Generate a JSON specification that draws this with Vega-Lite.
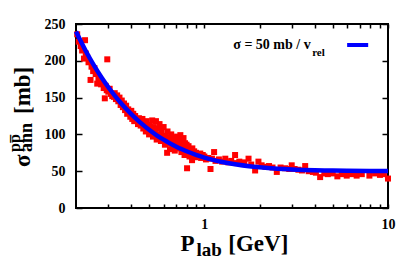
{
  "$schema": "https://vega.github.io/schema/vega-lite/v6.json",
  "autosize": "none",
  "width": 312,
  "height": 184,
  "padding": {"left": 76, "top": 24, "right": 11, "bottom": 51},
  "background": "white",
  "config": {
    "font": "Liberation Serif, Times New Roman, DejaVu Serif, serif",
    "view": {"stroke": "black", "strokeWidth": 2},
    "axis": {
      "grid": false,
      "domain": false,
      "tickColor": "black",
      "tickWidth": 1.5,
      "labelFont": "Liberation Serif, Times New Roman, DejaVu Serif, serif",
      "labelFontWeight": "bold",
      "labelFontSize": 14,
      "labelColor": "black",
      "title": null
    }
  },
  "datasets": {
    "pts": [
      {"p": 0.203, "s": 236}, {"p": 0.207, "s": 226}, {"p": 0.212, "s": 220}, {"p": 0.216, "s": 214},
      {"p": 0.221, "s": 203}, {"p": 0.224, "s": 228}, {"p": 0.226, "s": 210}, {"p": 0.23, "s": 205},
      {"p": 0.234, "s": 198}, {"p": 0.24, "s": 174}, {"p": 0.243, "s": 192}, {"p": 0.248, "s": 186},
      {"p": 0.252, "s": 190}, {"p": 0.256, "s": 182}, {"p": 0.261, "s": 169}, {"p": 0.265, "s": 176},
      {"p": 0.27, "s": 172}, {"p": 0.274, "s": 168}, {"p": 0.278, "s": 170}, {"p": 0.283, "s": 163},
      {"p": 0.287, "s": 149}, {"p": 0.29, "s": 166}, {"p": 0.294, "s": 160}, {"p": 0.296, "s": 202},
      {"p": 0.3, "s": 158},
      {"p": 0.305, "s": 162}, {"p": 0.31, "s": 155}, {"p": 0.315, "s": 152}, {"p": 0.322, "s": 151},
      {"p": 0.325, "s": 156}, {"p": 0.33, "s": 148}, {"p": 0.335, "s": 153}, {"p": 0.34, "s": 145},
      {"p": 0.345, "s": 150}, {"p": 0.35, "s": 140}, {"p": 0.355, "s": 146}, {"p": 0.36, "s": 137},
      {"p": 0.365, "s": 142}, {"p": 0.37, "s": 133}, {"p": 0.375, "s": 139}, {"p": 0.38, "s": 128},
      {"p": 0.385, "s": 134}, {"p": 0.39, "s": 131}, {"p": 0.395, "s": 124}, {"p": 0.4, "s": 132},
      {"p": 0.405, "s": 121}, {"p": 0.41, "s": 128}, {"p": 0.415, "s": 118}, {"p": 0.42, "s": 125},
      {"p": 0.43, "s": 120}, {"p": 0.435, "s": 114}, {"p": 0.44, "s": 122}, {"p": 0.45, "s": 112},
      {"p": 0.455, "s": 119},
      {"p": 0.46, "s": 121}, {"p": 0.465, "s": 108}, {"p": 0.47, "s": 115}, {"p": 0.48, "s": 104},
      {"p": 0.485, "s": 118}, {"p": 0.49, "s": 110}, {"p": 0.5, "s": 100}, {"p": 0.505, "s": 113},
      {"p": 0.51, "s": 106}, {"p": 0.52, "s": 119}, {"p": 0.525, "s": 97}, {"p": 0.53, "s": 110},
      {"p": 0.54, "s": 103}, {"p": 0.545, "s": 118}, {"p": 0.55, "s": 93}, {"p": 0.56, "s": 108},
      {"p": 0.565, "s": 100}, {"p": 0.57, "s": 114}, {"p": 0.58, "s": 91}, {"p": 0.585, "s": 104},
      {"p": 0.59, "s": 97}, {"p": 0.6, "s": 110}, {"p": 0.61, "s": 86}, {"p": 0.615, "s": 98},
      {"p": 0.62, "s": 92}, {"p": 0.627, "s": 75}, {"p": 0.63, "s": 104}, {"p": 0.64, "s": 88},
      {"p": 0.645, "s": 96}, {"p": 0.65, "s": 80}, {"p": 0.66, "s": 100}, {"p": 0.665, "s": 90},
      {"p": 0.67, "s": 84}, {"p": 0.68, "s": 95}, {"p": 0.69, "s": 78}, {"p": 0.7, "s": 92},
      {"p": 0.705, "s": 86}, {"p": 0.71, "s": 97}, {"p": 0.72, "s": 81}, {"p": 0.725, "s": 95},
      {"p": 0.73, "s": 88}, {"p": 0.74, "s": 99}, {"p": 0.75, "s": 76}, {"p": 0.755, "s": 92},
      {"p": 0.76, "s": 84}, {"p": 0.77, "s": 95}, {"p": 0.78, "s": 72}, {"p": 0.785, "s": 88},
      {"p": 0.79, "s": 80}, {"p": 0.8, "s": 86}, {"p": 0.805, "s": 54}, {"p": 0.81, "s": 76},
      {"p": 0.82, "s": 84}, {"p": 0.83, "s": 70}, {"p": 0.84, "s": 79}, {"p": 0.85, "s": 74},
      {"p": 0.857, "s": 65}, {"p": 0.86, "s": 81}, {"p": 0.87, "s": 72}, {"p": 0.88, "s": 77},
      {"p": 0.89, "s": 69}, {"p": 0.9, "s": 75}, {"p": 0.92, "s": 72}, {"p": 0.94, "s": 70},
      {"p": 0.95, "s": 74},
      {"p": 0.96, "s": 68}, {"p": 0.98, "s": 72}, {"p": 1.0, "s": 70}, {"p": 1.02, "s": 66},
      {"p": 1.05, "s": 68}, {"p": 1.08, "s": 53}, {"p": 1.1, "s": 67}, {"p": 1.13, "s": 76},
      {"p": 1.15, "s": 64}, {"p": 1.2, "s": 66}, {"p": 1.25, "s": 63}, {"p": 1.3, "s": 67},
      {"p": 1.35, "s": 62}, {"p": 1.4, "s": 64}, {"p": 1.47, "s": 72}, {"p": 1.5, "s": 61},
      {"p": 1.55, "s": 63}, {"p": 1.6, "s": 60}, {"p": 1.65, "s": 62}, {"p": 1.74, "s": 67},
      {"p": 1.8, "s": 59}, {"p": 1.89, "s": 51}, {"p": 1.97, "s": 63}, {"p": 2.05, "s": 58},
      {"p": 2.15, "s": 56}, {"p": 2.25, "s": 57}, {"p": 2.35, "s": 55}, {"p": 2.48, "s": 49},
      {"p": 2.6, "s": 55}, {"p": 2.75, "s": 54}, {"p": 2.9, "s": 53}, {"p": 2.99, "s": 58},
      {"p": 3.1, "s": 53}, {"p": 3.25, "s": 52}, {"p": 3.4, "s": 51}, {"p": 3.54, "s": 57},
      {"p": 3.7, "s": 50}, {"p": 3.9, "s": 49}, {"p": 4.05, "s": 48}, {"p": 4.27, "s": 42},
      {"p": 4.5, "s": 47}, {"p": 4.7, "s": 46}, {"p": 5.0, "s": 47}, {"p": 5.3, "s": 43},
      {"p": 5.6, "s": 46}, {"p": 5.96, "s": 44}, {"p": 6.3, "s": 46}, {"p": 6.75, "s": 44},
      {"p": 7.2, "s": 46}, {"p": 7.92, "s": 44}, {"p": 8.5, "s": 47}, {"p": 9.04, "s": 45},
      {"p": 9.5, "s": 46}, {"p": 10.0, "s": 40}
    ],
    "curve": [
      {"p": 0.2, "s": 239.8}, {"p": 0.225, "s": 214.4}, {"p": 0.25, "s": 194.1}, {"p": 0.275, "s": 177.7},
      {"p": 0.3, "s": 164.1}, {"p": 0.35, "s": 143.0}, {"p": 0.4, "s": 127.5}, {"p": 0.45, "s": 115.6},
      {"p": 0.5, "s": 106.3}, {"p": 0.55, "s": 98.8}, {"p": 0.6, "s": 92.8}, {"p": 0.65, "s": 87.8},
      {"p": 0.7, "s": 83.6}, {"p": 0.75, "s": 80.1}, {"p": 0.8, "s": 77.05}, {"p": 0.9, "s": 72.2},
      {"p": 1.0, "s": 68.55}, {"p": 1.1, "s": 65.7}, {"p": 1.25, "s": 62.51}, {"p": 1.5, "s": 58.97},
      {"p": 1.75, "s": 56.7}, {"p": 2.0, "s": 55.23}, {"p": 2.5, "s": 53.4}, {"p": 3.0, "s": 52.39},
      {"p": 4.0, "s": 51.36}, {"p": 5.0, "s": 50.87}, {"p": 6.0, "s": 50.61}, {"p": 8.0, "s": 50.34},
      {"p": 10.0, "s": 50.22}
    ]
  },
  "layer": [
    {
      "data": {"name": "pts"},
      "mark": {"type": "square", "color": "#ff0000", "size": 36, "opacity": 1},
      "encoding": {
        "x": {
          "field": "p", "type": "quantitative",
          "scale": {"type": "log", "domain": [0.2, 10], "nice": false},
          "axis": {
            "orient": "bottom",
            "values": [0.3, 0.4, 0.5, 0.6, 0.7, 0.8, 0.9, 1, 2, 3, 4, 5, 6, 7, 8, 9, 10],
            "labelExpr": "datum.value == 1 ? '1' : (datum.value == 10 ? '10' : '')",
            "offset": -4,
            "tickSize": 4,
            "labelPadding": 9,
            "labelOverlap": false,
            "labelFlush": false,
            "labelBound": false
          }
        },
        "y": {
          "field": "s", "type": "quantitative",
          "scale": {"domain": [0, 250], "nice": false, "zero": true},
          "axis": {
            "orient": "left",
            "values": [0, 50, 100, 150, 200, 250],
            "offset": -6,
            "tickSize": 6,
            "labelPadding": 11,
            "labelOverlap": false,
            "labelFlush": false,
            "labelBound": false
          }
        }
      }
    },
    {
      "data": {"name": "curve"},
      "mark": {"type": "line", "color": "#0000ff", "strokeWidth": 4.5, "interpolate": "monotone"},
      "encoding": {
        "x": {
          "field": "p", "type": "quantitative",
          "axis": {
            "orient": "top",
            "values": [0.3, 0.4, 0.5, 0.6, 0.7, 0.8, 0.9, 1, 2, 3, 4, 5, 6, 7, 8, 9, 10],
            "labels": false,
            "offset": -4,
            "tickSize": 4
          }
        },
        "y": {
          "field": "s", "type": "quantitative",
          "axis": {
            "orient": "right",
            "values": [0, 50, 100, 150, 200, 250],
            "labels": false,
            "offset": -6,
            "tickSize": 6
          }
        }
      }
    },
    {
      "data": {"values": [{}]},
      "mark": {"type": "text", "font": "Liberation Serif, Times New Roman, DejaVu Serif, serif", "fontWeight": "bold", "fontSize": 14, "align": "left", "baseline": "alphabetic", "color": "black"},
      "encoding": {
        "x": {"datum": 1.437, "type": "quantitative", "axis": null},
        "y": {"datum": 215.4, "type": "quantitative", "axis": null},
        "text": {"value": "σ = 50 mb / v"}
      }
    },
    {
      "data": {"values": [{}]},
      "mark": {"type": "text", "font": "Liberation Serif, Times New Roman, DejaVu Serif, serif", "fontWeight": "bold", "fontSize": 11, "align": "left", "baseline": "alphabetic", "color": "black"},
      "encoding": {
        "x": {"datum": 3.864, "type": "quantitative", "axis": null},
        "y": {"datum": 206.5, "type": "quantitative", "axis": null},
        "text": {"value": "rel"}
      }
    },
    {
      "data": {"values": [{}]},
      "mark": {"type": "rule", "color": "#0000ff", "strokeWidth": 4},
      "encoding": {
        "x": {"datum": 5.99, "type": "quantitative", "axis": null},
        "x2": {"datum": 7.8},
        "y": {"datum": 221.5, "type": "quantitative", "axis": null}
      }
    },
    {
      "data": {"values": [{}]},
      "mark": {"type": "text", "font": "Liberation Serif, Times New Roman, DejaVu Serif, serif", "fontWeight": "bold", "fontSize": 23, "align": "left", "baseline": "alphabetic", "color": "black"},
      "encoding": {
        "x": {"datum": 0.7406, "type": "quantitative", "axis": null},
        "y": {"datum": -58.4, "type": "quantitative", "axis": null},
        "text": {"value": "P"}
      }
    },
    {
      "data": {"values": [{}]},
      "mark": {"type": "text", "font": "Liberation Serif, Times New Roman, DejaVu Serif, serif", "fontWeight": "bold", "fontSize": 19, "align": "left", "baseline": "alphabetic", "color": "black"},
      "encoding": {
        "x": {"datum": 0.9048, "type": "quantitative", "axis": null},
        "y": {"datum": -65.5, "type": "quantitative", "axis": null},
        "text": {"value": "lab"}
      }
    },
    {
      "data": {"values": [{}]},
      "mark": {"type": "text", "font": "Liberation Serif, Times New Roman, DejaVu Serif, serif", "fontWeight": "bold", "fontSize": 23, "align": "left", "baseline": "alphabetic", "color": "black"},
      "encoding": {
        "x": {"datum": 1.35, "type": "quantitative", "axis": null},
        "y": {"datum": -58.4, "type": "quantitative", "axis": null},
        "text": {"value": "[GeV]"}
      }
    },
    {
      "data": {"values": [{}]},
      "mark": {"type": "text", "font": "Liberation Serif, Times New Roman, DejaVu Serif, serif", "fontWeight": "bold", "fontSize": 23, "align": "left", "baseline": "alphabetic", "angle": 270, "color": "black"},
      "encoding": {
        "x": {"datum": 0.1119, "type": "quantitative", "axis": null},
        "y": {"datum": 55.7, "type": "quantitative", "axis": null},
        "text": {"value": "σ"}
      }
    },
    {
      "data": {"values": [{}]},
      "mark": {"type": "text", "font": "Liberation Serif, Times New Roman, DejaVu Serif, serif", "fontWeight": "bold", "fontSize": 18, "align": "left", "baseline": "alphabetic", "angle": 270, "color": "black"},
      "encoding": {
        "x": {"datum": 0.1148, "type": "quantitative", "axis": null},
        "y": {"datum": 76.1, "type": "quantitative", "axis": null},
        "text": {"value": "ann"}
      }
    },
    {
      "data": {"values": [{}]},
      "mark": {"type": "text", "font": "Liberation Serif, Times New Roman, DejaVu Serif, serif", "fontWeight": "bold", "fontSize": 16, "align": "left", "baseline": "alphabetic", "angle": 270, "color": "black"},
      "encoding": {
        "x": {"datum": 0.0988, "type": "quantitative", "axis": null},
        "y": {"datum": 76.1, "type": "quantitative", "axis": null},
        "text": {"value": "pp̅"}
      }
    },
    {
      "data": {"values": [{}]},
      "mark": {"type": "text", "font": "Liberation Serif, Times New Roman, DejaVu Serif, serif", "fontWeight": "bold", "fontSize": 23, "align": "left", "baseline": "alphabetic", "angle": 270, "color": "black"},
      "encoding": {
        "x": {"datum": 0.1119, "type": "quantitative", "axis": null},
        "y": {"datum": 127.7, "type": "quantitative", "axis": null},
        "text": {"value": "[mb]"}
      }
    }
  ],
  "resolve": {"axis": {"x": "independent", "y": "independent"}}
}
